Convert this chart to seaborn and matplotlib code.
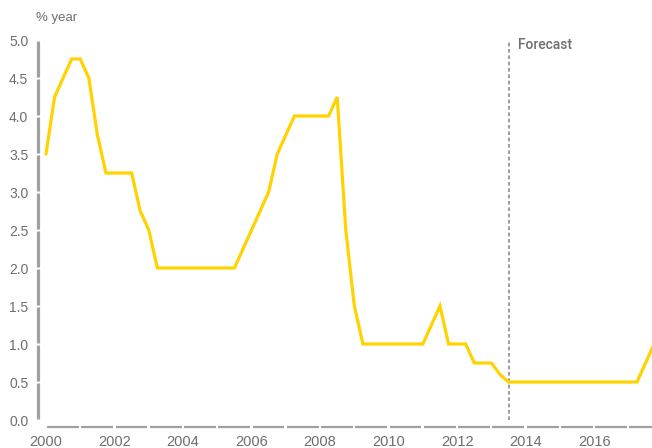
import matplotlib
matplotlib.use("Agg")
import matplotlib.pyplot as plt
import seaborn as sns
import pandas as pd
import numpy as np

# ---- data (quarterly policy rate, % per year) ----
years = [2000.00, 2000.25, 2000.50, 2000.75, 2001.00, 2001.25, 2001.50, 2001.75,
         2002.00, 2002.25, 2002.50, 2002.75, 2003.00, 2003.25, 2003.50, 2003.75,
         2004.00, 2004.25, 2004.50, 2004.75, 2005.00, 2005.25, 2005.50, 2005.75,
         2006.00, 2006.25, 2006.50, 2006.75, 2007.00, 2007.25, 2007.50, 2007.75,
         2008.00, 2008.25, 2008.50, 2008.75, 2009.00, 2009.25, 2009.50, 2009.75,
         2010.00, 2010.25, 2010.50, 2010.75, 2011.00, 2011.25, 2011.50, 2011.75,
         2012.00, 2012.25, 2012.50, 2012.75, 2013.00, 2013.25, 2013.50, 2013.75,
         2014.00, 2014.25, 2014.50, 2014.75, 2015.00, 2015.25, 2015.50, 2015.75,
         2016.00, 2016.25, 2016.50, 2016.75, 2017.00, 2017.25, 2017.50, 2017.75]
rate = [3.50, 4.25, 4.50, 4.75, 4.75, 4.50, 3.75, 3.25,
        3.25, 3.25, 3.25, 2.75, 2.50, 2.00, 2.00, 2.00,
        2.00, 2.00, 2.00, 2.00, 2.00, 2.00, 2.00, 2.25,
        2.50, 2.75, 3.00, 3.50, 3.75, 4.00, 4.00, 4.00,
        4.00, 4.00, 4.25, 2.50, 1.50, 1.00, 1.00, 1.00,
        1.00, 1.00, 1.00, 1.00, 1.00, 1.25, 1.50, 1.00,
        1.00, 1.00, 0.75, 0.75, 0.75, 0.60, 0.50, 0.50,
        0.50, 0.50, 0.50, 0.50, 0.50, 0.50, 0.50, 0.50,
        0.50, 0.50, 0.50, 0.50, 0.50, 0.50, 0.75, 1.00]
forecast_start = 2013.5
y_ticks = [0.0, 0.5, 1.0, 1.5, 2.0, 2.5, 3.0, 3.5, 4.0, 4.5, 5.0]
x_ticks = [2000, 2002, 2004, 2006, 2008, 2010, 2012, 2014, 2016]
year_segments = list(range(2000, 2018))

df = pd.DataFrame({"year": years, "rate": rate})

sns.set_style("white")
plt.rcParams["font.family"] = ["Liberation Sans", "DejaVu Sans"]

W, H = 652, 448
fig = plt.figure(figsize=(W / 100, H / 100), dpi=100)
ax = fig.add_axes([38 / W, 21 / H, 1 - 38 / W, (427 - 40) / H])

grey_axis = "#a0a0a2"
grey_text = "#6d6e71"

sns.lineplot(data=df, x="year", y="rate", ax=ax, color="#ffd200",
             linewidth=2.3, zorder=5, solid_joinstyle="miter")

ax.set_xlim(2000 - 8 / 34.26, 2000 + 606 / 34.26)
ax.set_ylim(-7 / 76, 5.0)

for s in ax.spines.values():
    s.set_visible(False)

# segmented y axis (gaps at every tick)
ytr = ax.get_yaxis_transform()
for a, b in zip(y_ticks[:-1], y_ticks[1:]):
    ax.plot([0, 0], [a + 0.015, b - 0.015], transform=ytr, color=grey_axis,
            linewidth=2.3, solid_capstyle="butt", clip_on=False, zorder=3)

# segmented x axis (gaps at every year)
xtr = ax.get_xaxis_transform()
for yr in year_segments:
    ax.plot([yr + 0.03, yr + 0.96], [0, 0], transform=xtr, color=grey_axis,
            linewidth=1.6, solid_capstyle="butt", clip_on=False, zorder=3)

# forecast marker
ax.vlines(forecast_start, 0, 5.0, colors="#8a8b8d", linestyles=(0, (2.2, 1.6)),
          linewidth=1.2, zorder=4)
ax.text(forecast_start + 0.28, 4.93, "Forecast", ha="left", va="center",
        fontsize=10, fontweight="medium", family=["Roboto", "DejaVu Sans"],
        color=grey_text)

ax.set_yticks(y_ticks)
ax.set_yticklabels([f"{v:.1f}" for v in y_ticks])
ax.set_xticks(x_ticks)
ax.set_xticklabels([str(v) for v in x_ticks])
ax.tick_params(axis="both", length=0, colors=grey_text)
ax.tick_params(axis="y", pad=7, labelsize=10)
ax.tick_params(axis="x", pad=6, labelsize=10.5)
ax.set_xlabel("")
ax.set_ylabel("")

fig.text(36 / W, 1 - 18 / H, "% year", ha="left", va="center",
         fontsize=9.5, color=grey_text)

fig.savefig("out.png", dpi=100, facecolor="white")
